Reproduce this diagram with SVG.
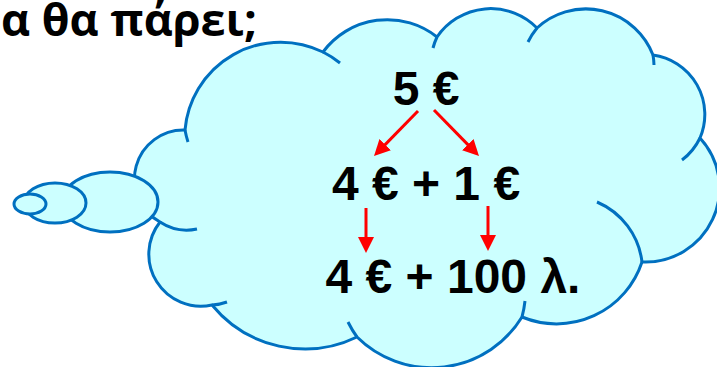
<svg xmlns="http://www.w3.org/2000/svg" width="717" height="367" viewBox="0 0 717 367">
  <style>
    .cloud { fill: #CCFFFF; stroke: #0070C0; stroke-width: 3; stroke-linejoin: round; }
    .tick { fill: none; stroke: #0070C0; stroke-width: 3; }
    .val { font-family: "Liberation Sans", Arial, sans-serif; font-weight: bold; font-size: 48px; fill: #000; text-anchor: middle; }
    .title { font-family: "Open Sans", "Noto Sans", sans-serif; font-weight: bold; font-size: 45px; fill: #000; }
    .arrow { stroke: #FF0000; stroke-width: 3; fill: none; marker-end: url(#head); }
  </style>
  <defs>
    <marker id="head" markerUnits="userSpaceOnUse" markerWidth="16" markerHeight="16" viewBox="0 0 16 16" refX="6" refY="8" orient="auto">
      <path d="M0,0 L16,8 L0,16 Z" fill="#FF0000"/>
    </marker>
  </defs>
  <rect width="717" height="367" fill="#FFFFFF"/>

  <text class="title" x="1" y="36">α θα πάρει;</text>

  <g id="cloud">
    <path class="cloud" d="M185,130 A96,96 0 0 1 323,52 A80,80 0 0 1 437,37 A65,65 0 0 1 537,28 A72,72 0 0 1 653,55 A60,60 0 0 1 700,138 A74,74 0 0 1 642,262 A90,90 0 0 1 522,317 A106,106 0 0 1 357,337 A120,120 0 0 1 212,305 A52,52 0 0 1 160,222 A49,49 0 0 1 185,130 Z"/>
    <path class="tick" d="M185,130 A96,96 0 0 0 188,142"/>
    <path class="tick" d="M323,52 A96,96 0 0 1 340,63"/>
    <path class="tick" d="M437,37 A65,65 0 0 0 433,48"/>
    <path class="tick" d="M537,28 A72,72 0 0 0 528,42"/>
    <path class="tick" d="M653,55 A72,72 0 0 1 654,65"/>
    <path class="tick" d="M700,138 A60,60 0 0 1 682,160"/>
    <path class="tick" d="M642,262 A75,75 0 0 0 597,202"/>
    <path class="tick" d="M522,317 A106,106 0 0 0 525,301"/>
    <path class="tick" d="M357,337 A106,106 0 0 1 348,322"/>
    <path class="tick" d="M212,305 A52,52 0 0 0 227,302"/>
    <path class="tick" d="M160,222 A49,49 0 0 0 197,229"/>
  </g>
  <g id="bubble-large"><ellipse class="cloud" cx="110" cy="202" rx="48" ry="30"/></g>
  <g id="bubble-medium"><ellipse class="cloud" cx="55" cy="203" rx="31" ry="20"/></g>
  <g id="bubble-small"><ellipse class="cloud" cx="30" cy="204" rx="16" ry="10"/></g>

  <g id="n-five"><text class="val" x="426" y="105">5 €</text></g>
  <g id="n-split"><text class="val" x="426" y="200">4 € + 1 €</text></g>
  <g id="n-coins"><text class="val" x="453" y="293">4 € + 100 λ.</text></g>

  <g id="connectors">
    <line class="arrow" x1="418" y1="111" x2="381" y2="148.9"/>
    <line class="arrow" x1="434" y1="110" x2="472" y2="148.9"/>
    <line class="arrow" x1="366" y1="208" x2="366" y2="243"/>
    <line class="arrow" x1="488" y1="206" x2="488" y2="241"/>
  </g>
</svg>
